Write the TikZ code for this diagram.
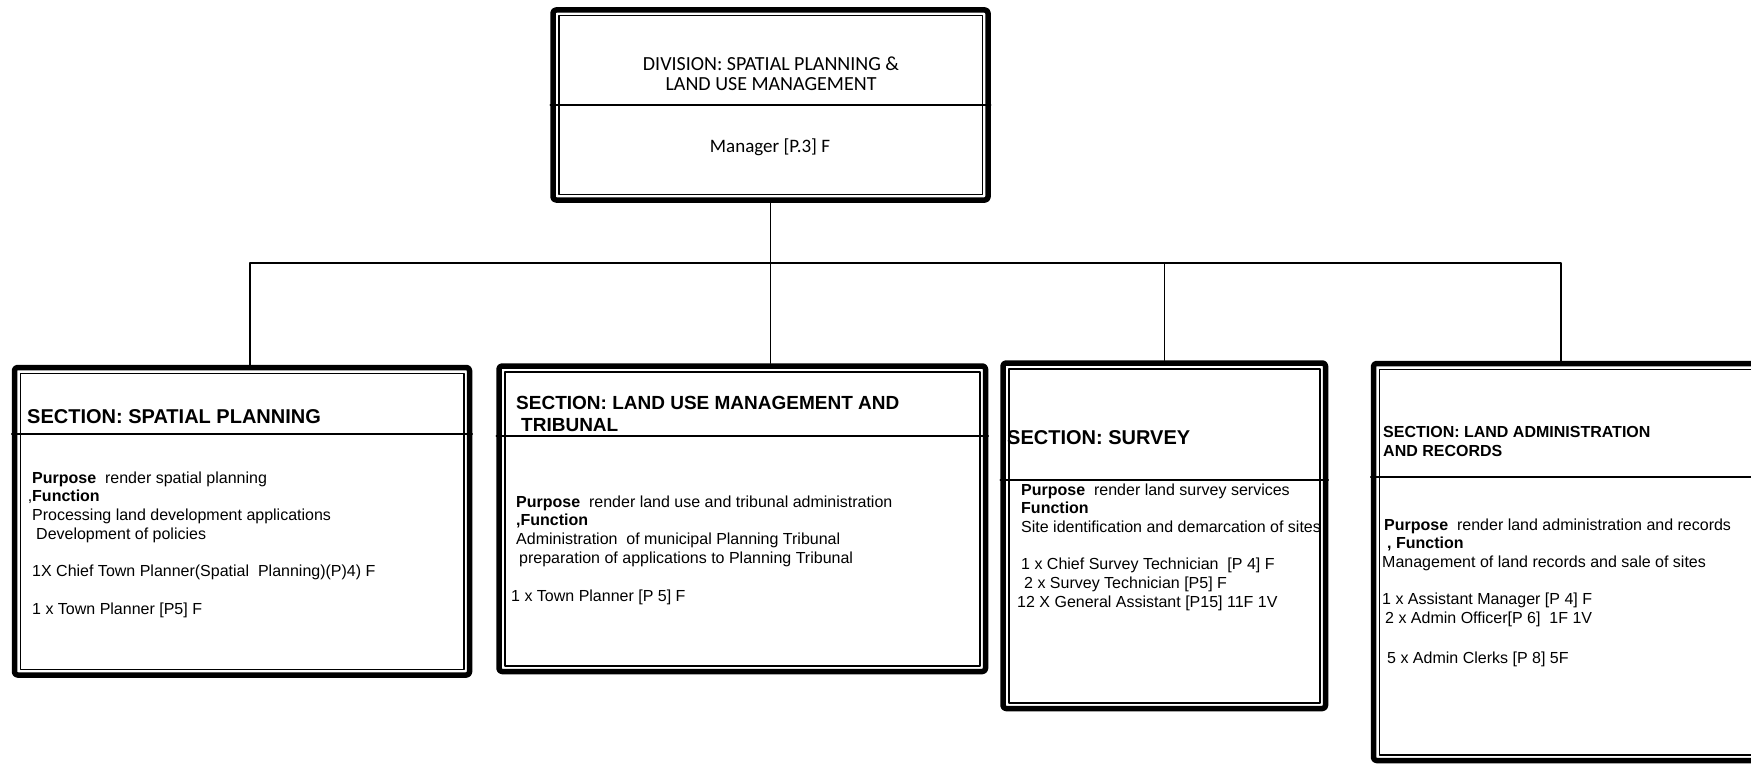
\documentclass[tikz,border=0pt]{standalone}
\usepackage{fontspec}
\setmainfont{Liberation Sans}
\newfontfamily\calibri{Carlito}

\tikzset{
  unit/.style={draw, line width=5.5pt, rounded corners=3pt, inner sep=0pt},
  frame/.style={line width=1.5pt},
  rule/.style={line width=1.4pt},
  link/.style={line width=1.3pt},
  head/.style={font=\bfseries\fontsize{20}{22}\selectfont, inner sep=0pt, anchor=base west},
  body/.style={font=\fontsize{16}{18.7}\selectfont, inner sep=0pt, anchor=north west, align=left},
  divtext/.style={font=\calibri\fontsize{20}{20}\selectfont, inner sep=0pt, align=center},
}

\begin{document}
\begin{tikzpicture}[x=1pt,y=1pt,line cap=round,line join=round]
        \useasboundingbox (0,0) rectangle (1751,-765);

        % division and its four sections
        \node[unit, minimum width=435, minimum height=190] (div) at (770.5,-105) {};
        \node[unit, minimum width=455, minimum height=307.5] (spat) at (242,-521.25) {};
        \node[unit, minimum width=486.5, minimum height=305.5] (lum) at (742.25,-518.75) {};
        \node[unit, minimum width=322.5, minimum height=345.5] (srv) at (1164.25,-535.75) {};
        \node[unit, minimum width=386.5, minimum height=397] (rec) at (1566.75,-562) {};

        % thin inner frame of each box
        \foreach \b in {div,spat,lum,srv,rec}
          \draw[frame] ([xshift=8.5pt,yshift=-8.5pt]\b.north west) rectangle ([xshift=-8.5pt,yshift=8.5pt]\b.south east);

        % heading rules
        \draw[rule] (div.west |- 0,-105) -- (div.east |- 0,-105);
        \draw[rule] (spat.west |- 0,-434) -- (spat.east |- 0,-434);
        \draw[rule] (lum.west |- 0,-436) -- (lum.east |- 0,-436);
        \draw[rule] (srv.west |- 0,-480) -- (srv.east |- 0,-480);
        \draw[rule] (rec.west |- 0,-477) -- (rec.east |- 0,-477);

        % connectors
        \coordinate (bus) at (0,-263);
        \coordinate (d1) at ([xshift=8pt]spat.north);
        \coordinate (d4) at ([xshift=-5.75pt]rec.north);
        \draw[link] (div.south) -- (div.south |- lum.north);
        \draw[link] (d1) |- (d4 |- bus) -- (d4);
        \draw[link] (srv.north) -- (srv.north |- bus);

        % division
        \node[divtext, anchor=north] (divhead) at (771,-56) {\strut DIVISION: SPATIAL PLANNING \&\\LAND USE MANAGEMENT};
        \node[divtext, font=\calibri\fontsize{19}{20}\selectfont, anchor=base] (divmgr) at (770,-153) {Manager [P.3] F};

        % spatial planning
        \node[head] (spathead) at (27,-423) {SECTION: SPATIAL PLANNING};
        \node[body] (spatbody) at (32,-469.9) {\strut\textbf{Purpose}\ \ render spatial planning\\
          \llap{,}\textbf{Function}\\
          Processing land development applications\\
          \hspace*{4pt}Development of policies\\[18.7pt]
          1X Chief Town Planner(Spatial\ \ Planning)(P)4) F\\[18.7pt]
          1 x Town Planner [P5] F};

        % land use management
        \node[head, font=\bfseries\fontsize{19}{22}\selectfont, anchor=north west, align=left] (lumhead) at (516,-393.6) {\strut SECTION: LAND USE MANAGEMENT AND\\\hspace*{5pt}TRIBUNAL};
        \node[body] (lumbody) at (516,-493.9) {\strut\textbf{Purpose}\ \ render land use and tribunal administration\\
          \textbf{,Function}\\
          Administration\ \ of municipal Planning Tribunal\\
          \hspace*{3pt}preparation of applications to Planning Tribunal\\[20pt]
          \hspace*{-5pt}1 x Town Planner [P 5] F};

        % survey
        \node[head] (srvhead) at (1007,-444) {SECTION: SURVEY};
        \node[body] (srvbody) at (1021,-481.9) {\strut\textbf{Purpose}\ \ render land survey services\\
          \textbf{Function}\\
          Site identification and demarcation of sites\\[18.7pt]
          1 x Chief Survey Technician\ \ [P 4] F\\
          \hspace*{3pt}2 x Survey Technician [P5] F\\
          \hspace*{-4pt}12 X General Assistant [P15] 11F 1V};

        % land administration
        \node[head, font=\bfseries\fontsize{16}{19}\selectfont, anchor=north west, align=left] (rechead) at (1383,-423.7) {\strut SECTION: LAND ADMINISTRATION\\AND RECORDS};
        \node[body] (recbody) at (1384,-516.9) {\strut\textbf{Purpose}\ \ render land administration and records\\
          \hspace*{3pt}\textbf{, Function}\\
          \hspace*{-2pt}Management of land records and sale of sites\\[18.7pt]
          \hspace*{-2pt}1 x Assistant Manager [P 4] F\\
          \hspace*{1pt}2 x Admin Officer[P 6]\ \ 1F 1V\\[21pt]
          \hspace*{3pt}5 x Admin Clerks [P 8] 5F};
      \end{tikzpicture}
\end{document}
